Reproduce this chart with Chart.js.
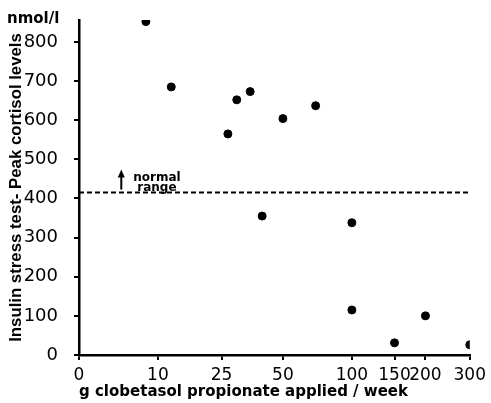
<!DOCTYPE html>
<html>
<head>
<meta charset="utf-8">
<script src="https://cdn.jsdelivr.net/npm/chart.js@4/dist/chart.umd.min.js"></script>
<style>
  html, body { margin: 0; padding: 0; background: #fff; }
  canvas { display: block; }
</style>
</head>
<body>
<canvas id="cortisolChart" width="491" height="403"></canvas>
<script>
// clobetasol applied (g/week) and peak cortisol (nmol/l)
const doseValues = [8, 12.5, 27, 30, 35, 40, 50, 70, 100, 100, 150, 200, 300];
const cortisolValues = [852, 685, 565, 652, 673, 355, 604, 637, 338, 115, 31, 100, 26];
const doseTicks = [0, 10, 25, 50, 100, 150, 200, 300];
const cortisolTicks = [0, 100, 200, 300, 400, 500, 600, 700, 800];
const normalLimit = 415;
const arrowDose = 4.5;

// the dose axis is drawn as log(dose + 10)
const WARP = 10;

class WarpScale extends Chart.LinearScale {
    static id = 'warp';
    static defaults = Chart.LinearScale.defaults;

    getPixelForValue(value) {
        const lo = Math.log10(this.min + WARP);
        const hi = Math.log10(this.max + WARP);
        return this.getPixelForDecimal((Math.log10(value + WARP) - lo) / (hi - lo));
    }

    getValueForPixel(pixel) {
        const lo = Math.log10(this.min + WARP);
        const hi = Math.log10(this.max + WARP);
        const d = this.getDecimalForPixel(pixel);
        return Math.pow(10, lo + d * (hi - lo)) - WARP;
    }
}
Chart.register(WarpScale);

const labelsPlugin = {
    id: 'extraLabels',
    afterDatasetsDraw(chart) {
        const ctx = chart.ctx;
        const x = chart.scales.x.getPixelForValue(arrowDose);
        const y = chart.scales.y.getPixelForValue(normalLimit);
        ctx.save();
        ctx.fillStyle = '#000';
        ctx.strokeStyle = '#000';
        // arrow pointing up from the normal limit
        ctx.lineWidth = 2;
        ctx.beginPath();
        ctx.moveTo(x, y - 3);
        ctx.lineTo(x, y - 18);
        ctx.stroke();
        ctx.beginPath();
        ctx.moveTo(x, y - 23);
        ctx.lineTo(x - 3.5, y - 15);
        ctx.lineTo(x + 3.5, y - 15);
        ctx.closePath();
        ctx.fill();

        ctx.font = 'bold 12px "DejaVu Sans"';
        ctx.textAlign = 'left';
        ctx.textBaseline = 'alphabetic';
        ctx.fillText('normal', x + 12, y - 12);
        ctx.fillText('range', x + 16, y - 2);

        ctx.font = 'bold 15px "DejaVu Sans"';
        ctx.fillText('nmol/l', 7, 23);
        ctx.restore();
    }
};

const ctx = document.getElementById('cortisolChart').getContext('2d');
new Chart(ctx, {
    type: 'scatter',
    data: {
        datasets: [{
            data: doseValues.map((d, i) => ({ x: d, y: cortisolValues[i] })),
            backgroundColor: '#000',
            borderColor: '#000',
            pointRadius: 4,
            pointHoverRadius: 4
        }, {
            type: 'line',
            data: [{ x: doseTicks[0], y: normalLimit }, { x: doseTicks[doseTicks.length - 1], y: normalLimit }],
            borderColor: '#000',
            borderWidth: 2,
            borderDash: [5, 3],
            pointRadius: 0,
            fill: false
        }]
    },
    options: {
        responsive: false,
        animation: false,
        layout: { padding: { top: 20, right: 20, left: 0, bottom: 0 } },
        plugins: {
            legend: { display: false },
            tooltip: { enabled: false }
        },
        scales: {
            x: {
                type: 'warp',
                min: 0,
                max: 300,
                afterBuildTicks: scale => { scale.ticks = doseTicks.map(v => ({ value: v })); },
                afterFit: scale => { scale.height = 48; },
                grid: { drawOnChartArea: false, drawTicks: true, tickLength: 5, color: '#000', lineWidth: 2 },
                border: { display: true, color: '#000', width: 2.5 },
                ticks: {
                    autoSkip: false,
                    maxRotation: 0,
                    padding: 5,
                    color: '#000',
                    font: { family: 'DejaVu Sans', size: 17 },
                    callback: v => String(v)
                },
                title: {
                    display: true,
                    align: 'start',
                    text: 'g clobetasol propionate applied / week',
                    color: '#000',
                    font: { family: 'DejaVu Sans', size: 15, weight: 'bold' },
                    padding: { top: 0, bottom: 2 }
                }
            },
            y: {
                min: 0,
                max: 856,
                afterBuildTicks: scale => { scale.ticks = cortisolTicks.map(v => ({ value: v })); },
                afterFit: scale => {
                    scale.width = 79;
                    scale.paddingTop = 0;
                    scale.paddingBottom = 0;
                },
                grid: { drawOnChartArea: false, drawTicks: true, tickLength: 5, color: '#000', lineWidth: 2 },
                border: { display: true, color: '#000', width: 2.5 },
                ticks: {
                    padding: 16,
                    color: '#000',
                    font: { family: 'DejaVu Sans', size: 18 },
                    callback: v => String(v)
                },
                title: {
                    display: true,
                    text: 'Insulin stress test- Peak cortisol levels',
                    color: '#000',
                    font: { family: 'Liberation Sans', size: 16.8, weight: 'bold' },
                    padding: { top: 6, bottom: 0 }
                }
            }
        }
    },
    plugins: [labelsPlugin]
});
</script>
</body>
</html>
